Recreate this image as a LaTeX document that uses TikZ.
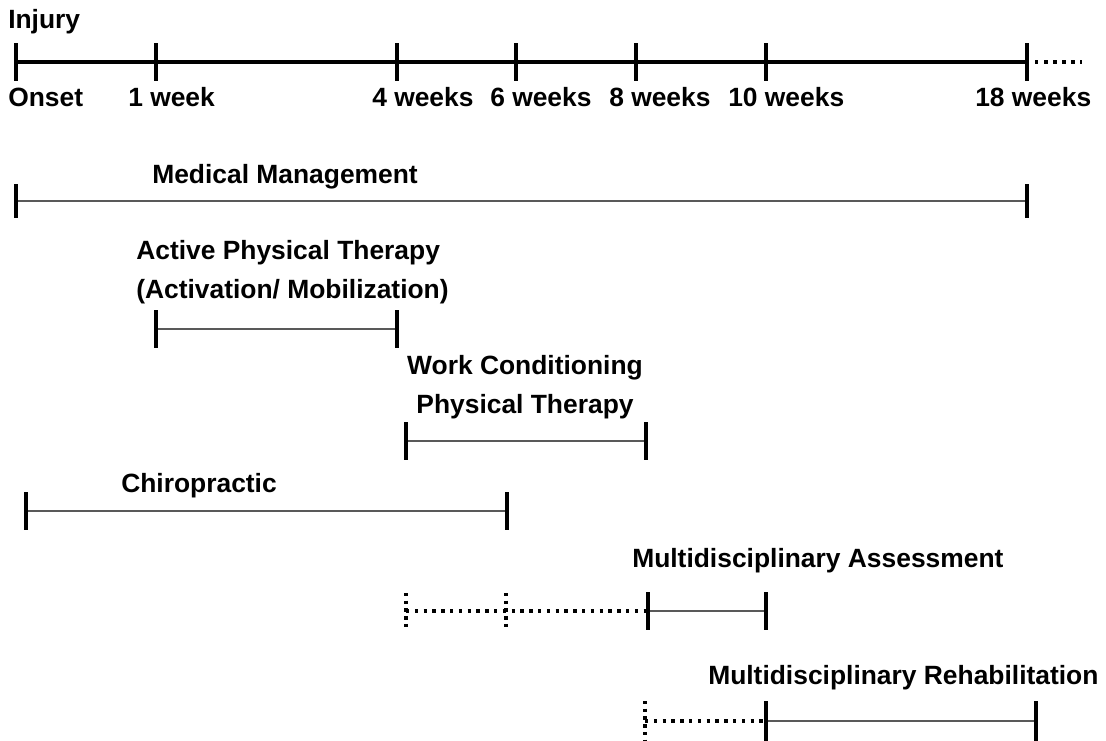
\documentclass[tikz,border=0pt]{standalone}
\usepackage{fontspec}
\setmainfont{Liberation Sans}
\usetikzlibrary{positioning,calc}
\tikzset{
  lbl/.style     = {font=\bfseries\fontsize{19.8}{23}\selectfont, inner sep=0pt, anchor=base west},
  axisline/.style = {line width=2.6pt},
  bar/.style     = {line width=3.3pt},
  span/.style    = {line width=1.8pt, draw=black!65},
  dotline/.style = {line width=2.6pt, dash pattern=on 2.6pt off 4pt},
}
\begin{document}
\begin{tikzpicture}[x=0.75pt, y=-0.75pt]
  \useasboundingbox (0,0) rectangle (1106,740);
  \clip (0,0) rectangle (1106,740);
  % time axis
  \node[lbl] (injury) at (8,28) {Injury};
  \foreach \x/\n in {16/onset,156/wk1,397/wk4,516/wk6,636/wk8,766/wk10,1027/wk18}
    \coordinate (\n) at (\x,62);
  \coordinate (axisend) at (1082,62);
  \draw[axisline] (onset) -- (wk18);
  \draw[dotline, dash pattern=on 2.6pt off 4.2pt] ($(wk18)+(8,0)$) coordinate (dotstart) -- (axisend);
  \foreach \n in {onset,wk1,wk4,wk6,wk8,wk10,wk18}
    \draw[bar] (\n) ++(0,-19) -- ++(0,38);
  \foreach \x/\n/\t in {8/onset/Onset,128/wk1/1 week,372/wk4/4 weeks,490/wk6/6 weeks,
                        609/wk8/8 weeks,728/wk10/10 weeks,975/wk18/18 weeks}
    \node[lbl] (l\n) at (\x,106) {\t};
  % medical management
  \node[lbl] (medical) at (152,183) {Medical Management};
  \coordinate (med0) at (16,201);
  \coordinate (med1) at (1027,201);
  \draw[span] (med0) -- (med1);
  \foreach \n in {med0,med1} \draw[bar] (\n) ++(0,-17) -- ++(0,34);
  % active physical therapy
  \node[lbl] (active) at (136,259) {Active Physical Therapy};
  \node[lbl] (activation) at (136,298) {(Activation/ Mobilization)};
  \coordinate (apt0) at (156,329);
  \coordinate (apt1) at (397,329);
  \draw[span] (apt0) -- (apt1);
  \foreach \n in {apt0,apt1} \draw[bar] (\n) ++(0,-19) -- ++(0,38);
  % work conditioning
  \node[lbl, anchor=base] (work) at (525,374) {Work Conditioning};
  \node[lbl, anchor=base] (workpt) at (525,413) {Physical Therapy};
  \coordinate (wc0) at (406,441);
  \coordinate (wc1) at (646,441);
  \draw[span] (wc0) -- (wc1);
  \foreach \n in {wc0,wc1} \draw[bar] (\n) ++(0,-19) -- ++(0,38);
  % chiropractic
  \node[lbl] (chiro) at (121,492) {Chiropractic};
  \coordinate (ch0) at (26,511);
  \coordinate (ch1) at (507,511);
  \draw[span] (ch0) -- (ch1);
  \foreach \n in {ch0,ch1} \draw[bar] (\n) ++(0,-19) -- ++(0,38);
  % multidisciplinary assessment
  \node[lbl] (assess) at (632,567) {Multidisciplinary Assessment};
  \coordinate (ma0) at (406,611);
  \coordinate (mam) at (506,611);
  \coordinate (ma1) at (648,611);
  \coordinate (ma2) at (766,611);
  \draw[dotline] (ma0) -- (ma1);
  \foreach \n in {ma0,mam} \draw[dotline, dash pattern=on 2.6pt off 3.2pt] (\n) ++(0,-18) -- ++(0,36);
  \draw[span] (ma1) -- (ma2);
  \foreach \n in {ma1,ma2} \draw[bar] (\n) ++(0,-19) -- ++(0,38);
  % multidisciplinary rehabilitation
  \node[lbl] (rehab) at (708,684) {Multidisciplinary Rehabilitation};
  \coordinate (mr0) at (645,721);
  \coordinate (mr1) at (766,721);
  \coordinate (mr2) at (1036,721);
  \draw[dotline] (mr0) -- (mr1);
  \draw[dotline, dash pattern=on 2.6pt off 3.2pt] (mr0) ++(0,-20) -- ++(0,40);
  \draw[span] (mr1) -- (mr2);
  \foreach \n in {mr1,mr2} \draw[bar] (\n) ++(0,-20) -- ++(0,40);
\end{tikzpicture}
\end{document}
